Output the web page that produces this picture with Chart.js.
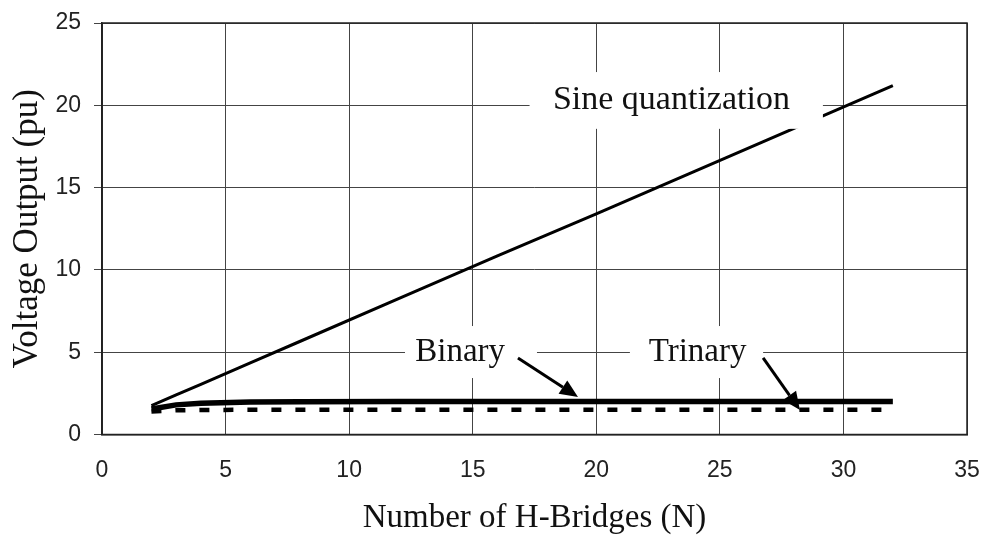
<!DOCTYPE html>
<html>
<head>
<meta charset="utf-8">
<script src="https://cdn.jsdelivr.net/npm/chart.js@4/dist/chart.umd.min.js"></script>
<style>
  html, body { margin: 0; padding: 0; background: #ffffff; }
  #wrap { width: 984px; height: 541px; }
</style>
</head>
<body>
<div id="wrap"><canvas id="c" width="984" height="541"></canvas></div>
<script>
// ---- data ----
const bridges      = [2, 3, 4, 6, 8, 12, 16, 20, 24, 28, 32];
const sineQuant    = [1.75, 2.4, 3.05, 4.35, 5.65, 8.25, 10.85, 13.4, 16.0, 18.6, 21.2];
const binaryOut    = [1.55, 1.8, 1.9, 1.97, 1.99, 2.0, 2.0, 2.0, 2.0, 2.0, 2.0];
const trinaryOut   = [1.4, 1.47, 1.49, 1.5, 1.5, 1.5, 1.5, 1.5, 1.5, 1.5, 1.5];
const xTicks       = [0, 5, 10, 15, 20, 25, 30, 35];
const yTicks       = [0, 5, 10, 15, 20, 25];
const seriesNames  = ['Sine quantization', 'Binary', 'Trinary'];
const xTitle       = 'Number of H-Bridges (N)';
const yTitle       = 'Voltage Output (pu)';

const toPts = (ys) => bridges.map((x, i) => ({ x: x, y: ys[i] }));

// annotation plugin: label boxes (white), texts and arrows, in data coordinates
const annotations = {
  boxes: [
    { x0: 17.3, x1: 29.17, y0: 18.57, y1: 22.02 },
    { x0: 12.26, x1: 17.6, y0: 3.43, y1: 6.59 },
    { x0: 21.36, x1: 26.75, y0: 3.43, y1: 6.59 }
  ],
  texts: [
    { text: seriesNames[0], x: 23.04, y: 20.3, size: 34 },
    { text: seriesNames[1], x: 14.49, y: 5.0, size: 33 },
    { text: seriesNames[2], x: 24.1, y: 5.0, size: 33 }
  ],
  arrows: [
    { x0: 16.83, y0: 4.65, x1: 19.26, y1: 2.28 },
    { x0: 26.75, y0: 4.65, x1: 28.24, y1: 1.49 }
  ]
};

const annotationPlugin = {
  id: 'labelsAndArrows',
  afterDatasetsDraw(chart) {
    const ctx = chart.ctx;
    const xs = chart.scales.x, ys = chart.scales.y;
    ctx.save();
    ctx.fillStyle = '#ffffff';
    annotations.boxes.forEach(b => {
      const l = xs.getPixelForValue(b.x0), r = xs.getPixelForValue(b.x1);
      const t = ys.getPixelForValue(b.y1), bt = ys.getPixelForValue(b.y0);
      ctx.fillRect(l, t, r - l, bt - t);
    });
    ctx.fillStyle = '#111111';
    ctx.textAlign = 'center';
    ctx.textBaseline = 'middle';
    annotations.texts.forEach(t => {
      ctx.font = t.size + 'px "Liberation Serif", "Times New Roman", serif';
      ctx.fillText(t.text, xs.getPixelForValue(t.x), ys.getPixelForValue(t.y));
    });
    ctx.strokeStyle = '#000000';
    ctx.fillStyle = '#000000';
    ctx.lineWidth = 3;
    annotations.arrows.forEach(a => {
      const x0 = xs.getPixelForValue(a.x0), y0 = ys.getPixelForValue(a.y0);
      const x1 = xs.getPixelForValue(a.x1), y1 = ys.getPixelForValue(a.y1);
      const ang = Math.atan2(y1 - y0, x1 - x0);
      const headLen = 18, headW = 8;
      const bx = x1 - headLen * Math.cos(ang), by = y1 - headLen * Math.sin(ang);
      ctx.beginPath();
      ctx.moveTo(x0, y0);
      ctx.lineTo(bx, by);
      ctx.stroke();
      ctx.beginPath();
      ctx.moveTo(x1, y1);
      ctx.lineTo(bx + headW * Math.sin(ang), by - headW * Math.cos(ang));
      ctx.lineTo(bx - headW * Math.sin(ang), by + headW * Math.cos(ang));
      ctx.closePath();
      ctx.fill();
    });
    const ca = chart.chartArea;
    ctx.strokeStyle = '#222222';
    ctx.lineWidth = 1.5;
    ctx.strokeRect(ca.left, ca.top, ca.right - ca.left, ca.bottom - ca.top);
    ctx.restore();
  }
};

new Chart(document.getElementById('c'), {
  type: 'line',
  data: {
    datasets: [
      { label: seriesNames[0], data: toPts(sineQuant), borderColor: '#000000', borderWidth: 3,
        pointRadius: 0, fill: false, tension: 0 },
      { label: seriesNames[1], data: toPts(binaryOut), borderColor: '#000000', borderWidth: 5.5,
        pointRadius: 0, fill: false, tension: 0 },
      { label: seriesNames[2], data: toPts(trinaryOut), borderColor: '#000000', borderWidth: 4.5,
        borderDash: [10, 14], pointRadius: 0, fill: false, tension: 0 }
    ]
  },
  options: {
    responsive: false,
    animation: false,
    layout: { padding: { left: 0, right: 17, top: 23, bottom: 0 } },
    plugins: { legend: { display: false }, tooltip: { enabled: false } },
    scales: {
      x: {
        type: 'linear', min: 0, max: 35,
        afterBuildTicks: (s) => { s.ticks = xTicks.map(v => ({ value: v })); },
        afterFit: (s) => { s.height = 106.5; s.paddingLeft = 0; s.paddingRight = 0; },
        grid: { color: '#444444', lineWidth: 1, drawTicks: false },
        border: { color: '#222222', width: 1.5 },
        ticks: { color: '#222222', padding: 22,
          font: { family: '"Liberation Sans", Arial, sans-serif', size: 23 } },
        title: { display: true, text: xTitle, color: '#111111', padding: { top: 0, bottom: 3 },
          font: { family: '"Liberation Serif", "Times New Roman", serif', size: 33 } }
      },
      y: {
        type: 'linear', min: 0, max: 25,
        afterBuildTicks: (s) => { s.ticks = yTicks.map(v => ({ value: v })); },
        afterFit: (s) => { s.width = 102; s.paddingTop = 0; s.paddingBottom = 0; },
        grid: { color: '#444444', lineWidth: 1, drawTicks: true, tickLength: 8 },
        border: { color: '#222222', width: 1.5 },
        ticks: { color: '#222222', padding: 13,
          font: { family: '"Liberation Sans", Arial, sans-serif', size: 23 } },
        title: { display: true, text: yTitle, color: '#111111', padding: { top: 7, bottom: 0 },
          font: { family: '"Liberation Serif", "Times New Roman", serif', size: 35 } }
      }
    }
  },
  plugins: [annotationPlugin]
});
</script>
</body>
</html>
